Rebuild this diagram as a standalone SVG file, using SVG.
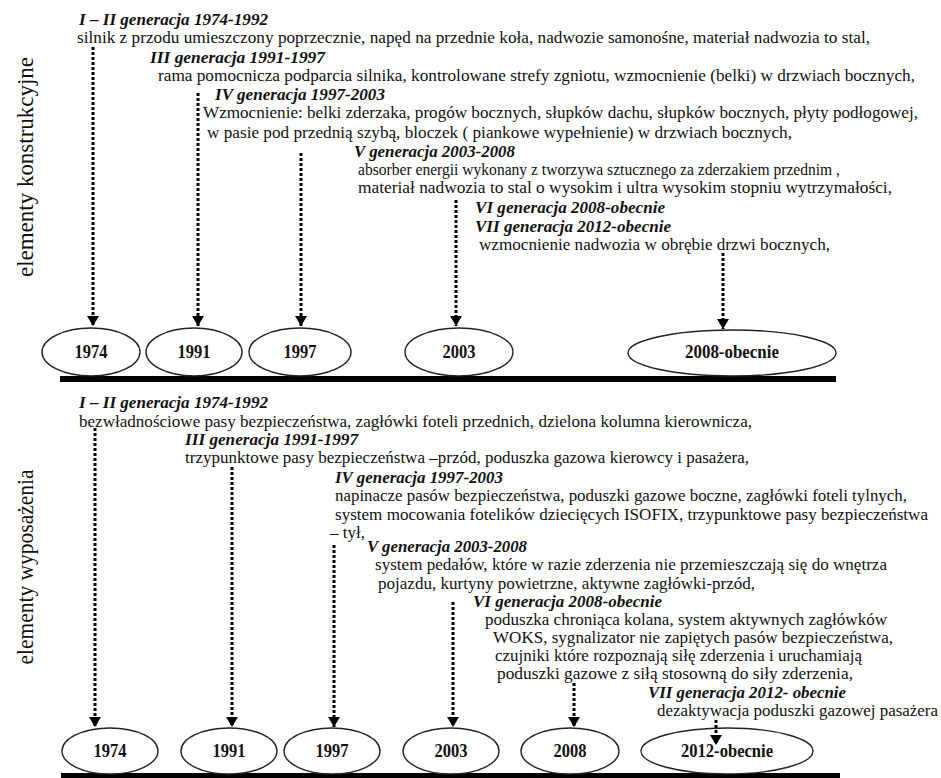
<svg xmlns="http://www.w3.org/2000/svg" width="941" height="778" viewBox="0 0 941 778" xml:space="preserve">
<style>
text{font-family:"Liberation Serif","Times New Roman",serif;fill:#111;}
.t{font-size:16.5px;}
.h{font-size:16.5px;font-weight:bold;font-style:italic;}
.ax{font-size:23px;}
.n{font-size:19px;font-weight:bold;text-anchor:middle;}
.el{fill:#fff;stroke:#222;stroke-width:1.4;}
.bar{fill:#000;}
.ar{stroke:#000;stroke-width:3;stroke-dasharray:3 2;fill:none;marker-end:url(#ah);}
</style>
<defs>
<marker id="ah" markerUnits="userSpaceOnUse" markerWidth="12" markerHeight="12" refX="10" refY="6" orient="auto"><path d="M0,0 L10,6 L0,12 z" fill="#000"/></marker>
</defs>
<rect width="941" height="778" fill="#fff"/>

<g id="axis-labels">
<text class="ax" transform="translate(33,167) rotate(-90)" text-anchor="middle" textLength="220" lengthAdjust="spacingAndGlyphs">elementy konstrukcyjne</text>
<text class="ax" transform="translate(33,567) rotate(-90)" text-anchor="middle" textLength="195" lengthAdjust="spacingAndGlyphs">elementy wyposażenia</text>
</g>

<g id="top-texts">
<g id="top-gen1"><text class="h" x="79" y="25" textLength="189" lengthAdjust="spacingAndGlyphs">I – II generacja 1974-1992</text>
<text class="t" x="77" y="43" textLength="793" lengthAdjust="spacingAndGlyphs">silnik z przodu umieszczony poprzecznie, napęd na przednie koła, nadwozie samonośne, materiał nadwozia to stal,</text></g>
<g id="top-gen3"><text class="h" x="150" y="63" textLength="175" lengthAdjust="spacingAndGlyphs">III generacja 1991-1997</text>
<text class="t" x="158" y="81" textLength="757" lengthAdjust="spacingAndGlyphs">rama pomocnicza podparcia silnika, kontrolowane strefy zgniotu, wzmocnienie (belki) w drzwiach bocznych,</text></g>
<g id="top-gen4"><text class="h" x="215" y="100" textLength="170" lengthAdjust="spacingAndGlyphs">IV generacja 1997-2003</text>
<text class="t" x="203" y="118" textLength="715" lengthAdjust="spacingAndGlyphs">Wzmocnienie:  belki zderzaka, progów bocznych, słupków dachu, słupków bocznych, płyty podłogowej,</text>
<text class="t" x="207" y="138" textLength="585" lengthAdjust="spacingAndGlyphs">w pasie pod przednią szybą, bloczek ( piankowe wypełnienie) w drzwiach bocznych,</text></g>
<g id="top-gen5"><text class="h" x="354" y="157" textLength="161" lengthAdjust="spacingAndGlyphs">V generacja 2003-2008</text>
<text class="t" x="358" y="175" textLength="482" lengthAdjust="spacingAndGlyphs">absorber energii wykonany z tworzywa sztucznego za zderzakiem przednim ,</text>
<text class="t" x="358" y="193" textLength="534" lengthAdjust="spacingAndGlyphs">materiał nadwozia to stal o wysokim i ultra wysokim stopniu  wytrzymałości,</text></g>
<g id="top-gen67"><text class="h" x="475" y="213" textLength="190" lengthAdjust="spacingAndGlyphs">VI generacja 2008-obecnie</text>
<text class="h" x="475" y="232" textLength="196" lengthAdjust="spacingAndGlyphs">VII generacja 2012-obecnie</text>
<text class="t" x="479" y="250" textLength="351" lengthAdjust="spacingAndGlyphs">wzmocnienie nadwozia w obrębie drzwi bocznych,</text></g>
</g>

<g id="bottom-texts">
<g id="bot-gen1"><text class="h" x="79" y="408" textLength="189" lengthAdjust="spacingAndGlyphs">I – II generacja 1974-1992</text>
<text class="t" x="79" y="427" textLength="673" lengthAdjust="spacingAndGlyphs">bezwładnościowe pasy bezpieczeństwa, zagłówki foteli przednich, dzielona kolumna kierownicza,</text></g>
<g id="bot-gen3"><text class="h" x="185" y="445" textLength="173" lengthAdjust="spacingAndGlyphs">III generacja 1991-1997</text>
<text class="t" x="185" y="463" textLength="564" lengthAdjust="spacingAndGlyphs">trzypunktowe pasy bezpieczeństwa –przód, poduszka gazowa kierowcy i pasażera,</text></g>
<g id="bot-gen4"><text class="h" x="335" y="483" textLength="168" lengthAdjust="spacingAndGlyphs">IV generacja 1997-2003</text>
<text class="t" x="335" y="501" textLength="572" lengthAdjust="spacingAndGlyphs">napinacze pasów bezpieczeństwa, poduszki gazowe boczne, zagłówki foteli tylnych,</text>
<text class="t" x="335" y="520" textLength="593" lengthAdjust="spacingAndGlyphs">system mocowania fotelików dziecięcych ISOFIX, trzypunktowe pasy bezpieczeństwa</text>
<text class="t" x="330" y="538" textLength="35" lengthAdjust="spacingAndGlyphs">– tył,</text></g>
<g id="bot-gen5"><text class="h" x="367" y="552" textLength="160" lengthAdjust="spacingAndGlyphs">V generacja 2003-2008</text>
<text class="t" x="375" y="570" textLength="512" lengthAdjust="spacingAndGlyphs">system pedałów, które w razie zderzenia nie przemieszczają się do wnętrza</text>
<text class="t" x="378" y="588.5" textLength="377" lengthAdjust="spacingAndGlyphs">pojazdu, kurtyny powietrzne, aktywne zagłówki-przód,</text></g>
<g id="bot-gen6"><text class="h" x="473" y="607" textLength="189" lengthAdjust="spacingAndGlyphs">VI generacja 2008-obecnie</text>
<text class="t" x="485" y="625" textLength="402" lengthAdjust="spacingAndGlyphs">poduszka chroniąca kolana, system  aktywnych  zagłówków</text>
<text class="t" x="493" y="643" textLength="400" lengthAdjust="spacingAndGlyphs">WOKS,  sygnalizator nie zapiętych pasów bezpieczeństwa,</text>
<text class="t" x="495" y="661" textLength="367" lengthAdjust="spacingAndGlyphs">czujniki które rozpoznają siłę zderzenia i uruchamiają</text>
<text class="t" x="497" y="679" textLength="356" lengthAdjust="spacingAndGlyphs">poduszki gazowe z siłą  stosowną do siły zderzenia,</text></g>
<g id="bot-gen7"><text class="h" x="648" y="698" textLength="198" lengthAdjust="spacingAndGlyphs">VII generacja 2012- obecnie</text>
<text class="t" x="657" y="716" textLength="281" lengthAdjust="spacingAndGlyphs">dezaktywacja poduszki gazowej pasażera</text></g>
</g>

<g id="timelines">
<rect class="bar" x="60" y="376" width="776" height="6"/>
<rect class="bar" x="61" y="773" width="779" height="6"/>
</g>

<g id="top-nodes">
<g id="t1974"><ellipse class="el" cx="91" cy="352" rx="49" ry="24"/><text class="n" x="91" y="358" textLength="33" lengthAdjust="spacingAndGlyphs">1974</text></g>
<g id="t1991"><ellipse class="el" cx="194" cy="352" rx="48" ry="24"/><text class="n" x="194" y="358" textLength="33" lengthAdjust="spacingAndGlyphs">1991</text></g>
<g id="t1997"><ellipse class="el" cx="300" cy="352" rx="51" ry="24"/><text class="n" x="300" y="358" textLength="33" lengthAdjust="spacingAndGlyphs">1997</text></g>
<g id="t2003"><ellipse class="el" cx="459" cy="352" rx="54" ry="24"/><text class="n" x="459" y="358" textLength="33" lengthAdjust="spacingAndGlyphs">2003</text></g>
<g id="t2008"><ellipse class="el" cx="732" cy="353" rx="104" ry="23"/><text class="n" x="732" y="358" textLength="94" lengthAdjust="spacingAndGlyphs">2008-obecnie</text></g>
</g>

<g id="bottom-nodes">
<g id="b1974"><ellipse class="el" cx="110" cy="751" rx="48" ry="23"/><text class="n" x="110" y="757" textLength="33" lengthAdjust="spacingAndGlyphs">1974</text></g>
<g id="b1991"><ellipse class="el" cx="229" cy="751" rx="48" ry="23"/><text class="n" x="229" y="757" textLength="33" lengthAdjust="spacingAndGlyphs">1991</text></g>
<g id="b1997"><ellipse class="el" cx="332" cy="751" rx="48" ry="23"/><text class="n" x="332" y="757" textLength="33" lengthAdjust="spacingAndGlyphs">1997</text></g>
<g id="b2003"><ellipse class="el" cx="451" cy="751" rx="48" ry="23"/><text class="n" x="451" y="757" textLength="33" lengthAdjust="spacingAndGlyphs">2003</text></g>
<g id="b2008"><ellipse class="el" cx="570" cy="751" rx="49" ry="23"/><text class="n" x="570" y="757" textLength="33" lengthAdjust="spacingAndGlyphs">2008</text></g>
<g id="b2012"><ellipse class="el" cx="727" cy="751" rx="86" ry="23"/><text class="n" x="727" y="757" textLength="92" lengthAdjust="spacingAndGlyphs">2012-obecnie</text></g>
</g>

<g id="connectors">
<line class="ar" x1="93" y1="47" x2="93" y2="326"/>
<line class="ar" x1="198" y1="93" x2="198" y2="326"/>
<line class="ar" x1="301" y1="153" x2="301" y2="326"/>
<line class="ar" x1="456" y1="200" x2="456" y2="326"/>
<line class="ar" x1="723" y1="253" x2="723" y2="329"/>
<line class="ar" x1="95" y1="428" x2="95" y2="727"/>
<line class="ar" x1="232" y1="467" x2="232" y2="727"/>
<line class="ar" x1="334" y1="545" x2="334" y2="727"/>
<line class="ar" x1="453" y1="602" x2="453" y2="727"/>
<line class="ar" x1="574" y1="683" x2="574" y2="727"/>
<line class="ar" x1="716" y1="720" x2="716" y2="745"/>
</g>
</svg>
